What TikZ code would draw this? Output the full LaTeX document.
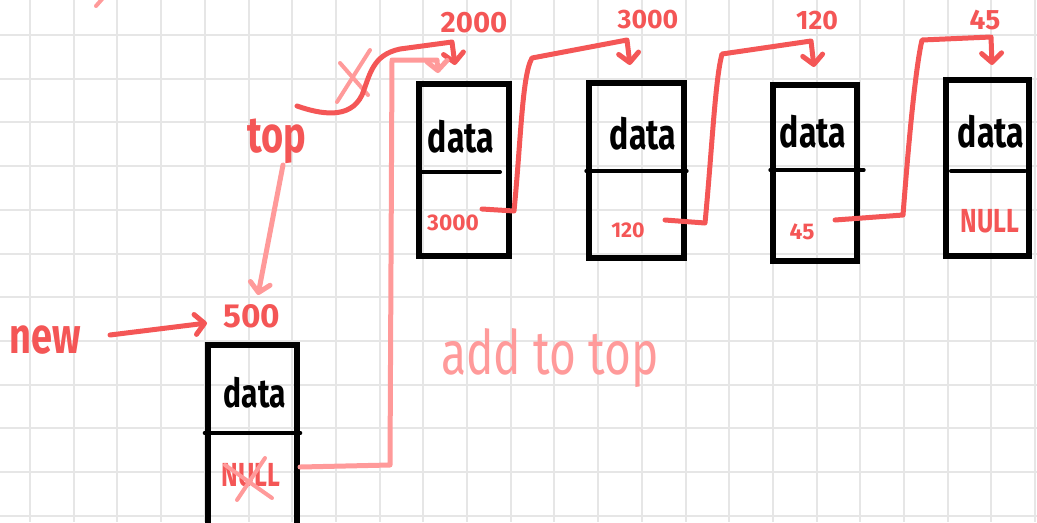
\documentclass[tikz,border=0pt]{standalone}
\usepackage{fontspec}
\setmainfont{Fira Sans}
\newfontfamily\hand[FakeStretch=0.75]{Fira Sans}
\usetikzlibrary{arrows.meta,calc}
\definecolor{ink}{HTML}{F45656}
\definecolor{blush}{HTML}{FF9A9A}
\definecolor{gridgray}{HTML}{E6E6E6}
\begin{document}
\begin{tikzpicture}[x=0.75pt,y=-0.75pt,line cap=round,line join=round,
  gridline/.style={draw=gridgray,line width=1.5pt,line cap=butt},
  cellbox/.style={draw=black,line width=4.5pt,rectangle,inner sep=0pt,line join=miter},
  cellrule/.style={draw=black,line width=#1},
  inkline/.style={draw=ink,line width=3.75pt},
  blushline/.style={draw=blush,line width=3.75pt},
  tipV/.style={-{Straight Barb[length=7pt,width=15pt,round]}},
  datatxt/.style={inner sep=0pt,font=\hand\bfseries\fontsize{#1}{#1}\selectfont},
  addr/.style={inner sep=0pt,text=ink,font=\bfseries\fontsize{#1}{#1}\selectfont},
  word/.style={inner sep=0pt,font=\hand\bfseries\fontsize{#1}{#1}\selectfont},
]
\useasboundingbox (0,0) rectangle (1037,522);

% squared paper
\foreach \i in {0,...,23} \draw[gridline] ({30+43.7*\i},0) -- ({30+43.7*\i},522);
\foreach \j in {0,...,11} \draw[gridline] (0,{35+43.7*\j}) -- (1037,{35+43.7*\j});

% list cells
\node[cellbox,minimum width=67.5pt,minimum height=129pt] (box1) at (464,170) {};
\node[cellbox,minimum width=71.25pt,minimum height=131.25pt] (box2) at (636.5,170.5) {};
\node[cellbox,minimum width=63pt,minimum height=132pt] (box3) at (815,173) {};
\node[cellbox,minimum width=62.25pt,minimum height=132pt] (box4) at (987.5,168) {};
\node[cellbox,minimum width=66.75pt,minimum height=146.25pt] (boxN) at (252.5,442.5) {};

% field separators
\draw[cellrule=3pt] ($(box1.center)+(-42,2)$) -- ($(box1.center)+(36,2)$);
\draw[cellrule=2.5pt] ($(box2.west)+(0,0.5)$) -- ($(box2.east)+(0,0.5)$);
\draw[cellrule=2.5pt] ($(box3.west)+(0,-3)$) -- ($(box3.east)+(4,-3)$);
\draw[cellrule=3pt] ($(box4.center)+(-36.5,3)$) -- ($(box4.center)+(37.5,3)$);
\draw[cellrule=3.5pt] ($(boxN.west)+(0,-9.5)$) -- ($(boxN.east)+(0,-9.5)$);

% data fields
\node[datatxt=32] (d1) at (461,137) {data};
\node[datatxt=32] (d2) at (643,134) {data};
\node[datatxt=32] (d3) at (813,132) {data};
\node[datatxt=32] (d4) at (991,132) {data};
\node[datatxt=30] (dN) at (255,393) {data};

% next fields
\node[addr=17] (p1) at (453,223) {3000};
\node[addr=16] (p2) at (628,230) {120};
\node[addr=17] (p3) at (802,232) {45};
\node[word=25,text=ink] (p4) at (990,221) {NULL};
\node[word=25,text=ink] (pN) at (251,475) {NULL};

% addresses
\node[addr=22] (a2000) at (474,23) {2000};
\node[addr=20] (a3000) at (648,20) {3000};
\node[addr=20] (a120) at (817,21) {120};
\node[addr=21] (a45) at (985,20) {45};
\node[addr=25] (a500) at (252,316) {500};

% pointer names
\node[word=38,text=ink] (top) at (277,141) {top};
\node[word=38,text=ink] (new) at (45,340) {new};
\node[inner sep=0pt,text=blush,font=\hand\fontsize{46}{46}\selectfont] (note) at (550,358) {add to top};

% stroke running off the top edge
\draw[blushline,line width=3pt] (103,-2) -- (96,6);

% old top pointer, crossed out
\draw[blushline,line width=3pt] (337,102) -- (370,50);
\draw[blushline,line width=3pt] (340,63) -- (368,95);
\draw[inkline,tipV] ($(top.center)+(20,-35)$) .. controls (320,114) and (350,120) .. (362,95)
  .. controls (370,75) and (372,55) .. (400,49) -- (452,42) -- ($(box1.north)+(-9,-16)$);

% top now names the new cell
\draw[blushline,tipV] ($(top.center)+(6,24)$) -- ($(a500.center)+(6,-21)$);
\draw[inkline,tipV] ($(new.center)+(65,-5)$) -- ($(a500.center)+(-45,7)$);

% links between cells
\draw[inkline,tipV] ($(p1.center)+(29,-14)$) -- (514,211) .. controls (521,140) and (522,75) .. (532,58)
  -- (627,40) -- ($(box2.north)+(-6.5,-15)$);
\draw[inkline,tipV] ($(p2.center)+(37,-10)$) -- (705,223) .. controls (712,150) and (715,80) .. (722,54)
  -- (811,41) -- ($(box3.north)+(-1,-15)$);
\draw[inkline,tipV] ($(p3.center)+(33,-12)$) -- (903,215) .. controls (908,150) and (915,70) .. (922,40)
  -- (991,37) -- ($(box4.north)+(4.5,-12)$);

% new cell linked in front of the list
\draw[blushline,tipV] ($(pN.center)+(49,-8)$) -- (390,465) -- (392,60) -- (437,60) -- ($(box1.north)+(-26,-8)$);
\draw[blushline,line width=3pt] ($(pN.center)+(-26,-10)$) -- ($(pN.center)+(21,23)$);
\draw[blushline,line width=3pt] ($(pN.center)+(14,-17)$) -- ($(pN.center)+(-14,25)$);
\end{tikzpicture}
\end{document}
